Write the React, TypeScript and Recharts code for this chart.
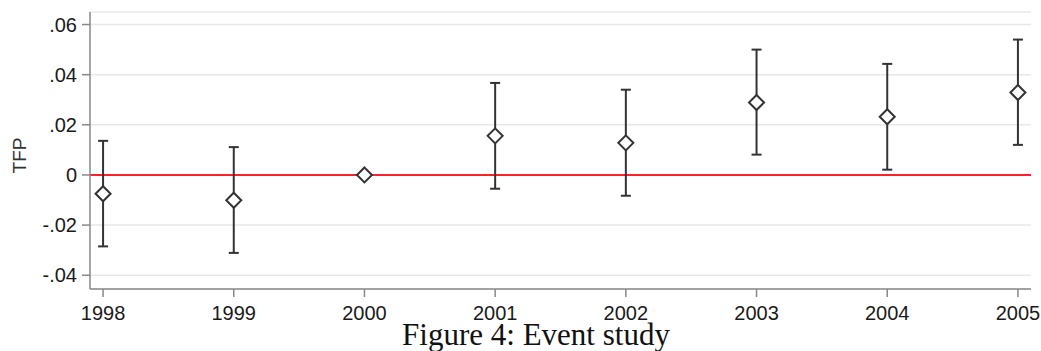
import {
  CartesianGrid,
  ComposedChart,
  ErrorBar,
  ReferenceLine,
  Scatter,
  XAxis,
  YAxis,
} from "recharts";

const years = [1998, 1999, 2000, 2001, 2002, 2003, 2004, 2005];
const estimates = [-0.0075, -0.0101, 0, 0.0156, 0.0128, 0.0289, 0.0232, 0.0329];
const lowerCI = [-0.0285, -0.0311, 0, -0.0055, -0.0083, 0.0081, 0.0021, 0.012];
const upperCI = [0.0136, 0.0111, 0, 0.0367, 0.034, 0.05, 0.0443, 0.054];
const yTicks = [-0.04, -0.02, 0, 0.02, 0.04, 0.06];

const data = years.map((year, i) => ({
  year,
  est: estimates[i],
  err: [estimates[i] - lowerCI[i], upperCI[i] - estimates[i]],
}));

const fmtY = (v: number) => (v === 0 ? "0" : v.toFixed(2).replace("0.", "."));

const Diamond = (props: any) => {
  const { cx, cy } = props;
  const r = 7.5;
  return (
    <polygon
      points={`${cx},${cy - r} ${cx + r},${cy} ${cx},${cy + r} ${cx - r},${cy}`}
      fill="#fff"
      stroke="#333"
      strokeWidth={2}
    />
  );
};

const tickStyle = { fontFamily: "Liberation Sans, Arial, sans-serif", fontSize: 20, fill: "#1a1a1a" };

const App = () => {
  return (
    <div style={{ position: "absolute", left: 0, top: 0, width: 1041, height: 351, overflow: "hidden", background: "#fff" }}>
      <ComposedChart
        width={1041}
        height={351}
        data={data}
        margin={{ top: 12, right: 10, bottom: 31, left: 0 }}
      >
        <CartesianGrid vertical={false} stroke="#e8e8e8" strokeWidth={1.5} />
        <XAxis
          dataKey="year"
          type="number"
          domain={[1997.9, 2005.1]}
          ticks={years}
          allowDataOverflow
          height={31}
          tickSize={8}
          tickMargin={9}
          tick={tickStyle}
          stroke="#888"
          strokeWidth={1.5}
        />
        <YAxis
          type="number"
          domain={[-0.0455, 0.065]}
          ticks={yTicks}
          allowDataOverflow
          width={90}
          tickSize={8}
          tickMargin={5}
          tickFormatter={fmtY}
          tick={tickStyle}
          stroke="#888"
          strokeWidth={1.5}
          label={{
            value: "TFP",
            angle: -90,
            position: "center",
            dx: -26,
            dy: 5,
            style: { fontFamily: "Liberation Sans, Arial, sans-serif", fontSize: 19, fill: "#333" },
          }}
        />
        <ReferenceLine y={0} stroke="#f22" strokeWidth={2} />
        <Scatter dataKey="est" shape={Diamond} isAnimationActive={false}>
          <ErrorBar
            dataKey="err"
            direction="y"
            width={5}
            stroke="#333"
            strokeWidth={2}
            isAnimationActive={false}
          />
        </Scatter>
      </ComposedChart>
      <div
        style={{
          position: "absolute",
          top: 317,
          left: 0,
          width: 1041,
          paddingLeft: 31,
          boxSizing: "border-box",
          textAlign: "center",
          fontFamily: "Liberation Serif, serif",
          fontSize: 31,
          color: "#111",
          whiteSpace: "nowrap",
        }}
      >
        Figure 4: Event study
      </div>
    </div>
  );
};

export default App;
